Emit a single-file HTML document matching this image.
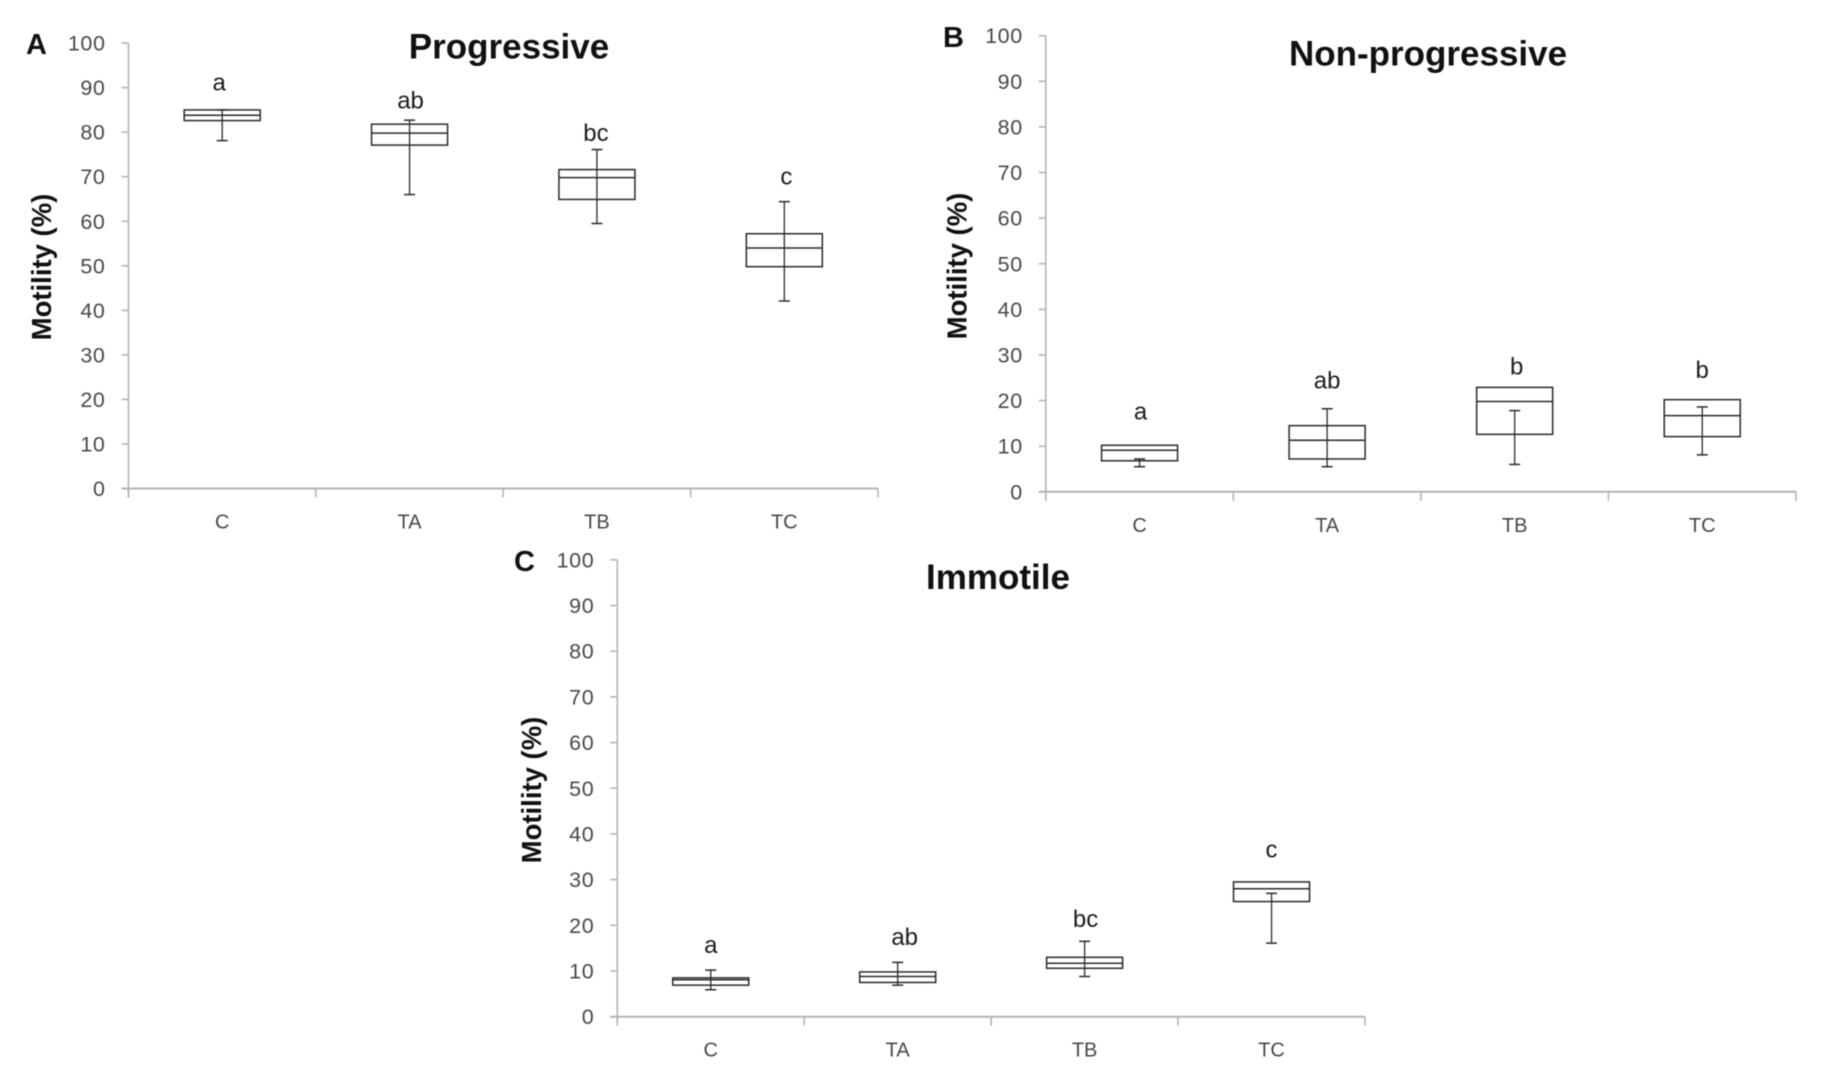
<!DOCTYPE html>
<html lang="en">
<head>
<meta charset="utf-8">
<title>Motility box plots</title>
<style>
html,body{margin:0;padding:0;background:#fff;width:1830px;height:1080px;overflow:hidden}
svg{display:block;filter:blur(0.55px)}
text{font-family:"Liberation Sans",sans-serif}
.panel-letter,.chart-title,.axis-title{font-weight:bold;fill:#111}
.chart-title{font-size:35px;text-anchor:middle}
.panel-letter{font-size:29px}
.axis-title{font-size:27.5px;text-anchor:middle}
.tick-label{font-size:21.5px;letter-spacing:0.6px;fill:#484848;text-anchor:end}
.cat-label{font-size:20px;fill:#484848;text-anchor:middle}
.sig-label{font-size:24px;fill:#1c1c1c;text-anchor:middle}
</style>
</head>
<body>
<svg id="figure" width="1830" height="1080" viewBox="0 0 1830 1080" xmlns="http://www.w3.org/2000/svg">
  <rect x="0" y="0" width="1830" height="1080" fill="#fff"/>

  <g id="panel-a">
    <text class="panel-letter" x="26" y="54">A</text>
    <text class="chart-title" x="509" y="58.5">Progressive</text>
    <text class="axis-title" transform="translate(51 267) rotate(-90)">Motility (%)</text>
  </g>

  <g id="panel-b">
    <text class="panel-letter" x="943" y="47">B</text>
    <text class="chart-title" x="1428" y="65.5">Non-progressive</text>
    <text class="axis-title" transform="translate(966.5 266) rotate(-90)">Motility (%)</text>
  </g>

  <g id="panel-c">
    <text class="panel-letter" x="514" y="571">C</text>
    <text class="chart-title" x="998" y="589">Immotile</text>
    <text class="axis-title" transform="translate(541 790) rotate(-90)">Motility (%)</text>
  </g>
</svg>

<script>
// Shared axis data
const categories = ["C", "TA", "TB", "TC"];
const yTickValues = [0, 10, 20, 30, 40, 50, 60, 70, 80, 90, 100];

// Panel A: Progressive
const progressiveLow    = [78.1, 66.0, 59.5, 42.1];
const progressiveQ1     = [82.6, 77.1, 64.9, 49.8];
const progressiveMedian = [83.8, 79.8, 69.8, 54.0];
const progressiveQ3     = [85.0, 81.8, 71.6, 57.2];
const progressiveHigh   = [85.0, 82.7, 76.1, 64.4];
const progressiveLetters = ["a", "ab", "bc", "c"];
const progressiveLetterLevels = [89.4, 85.3, 78.0, 68.3];

// Panel B: Non-progressive
const nonProgressiveLow    = [5.5, 5.5, 6.0, 8.1];
const nonProgressiveQ1     = [6.8, 7.2, 12.6, 12.1];
const nonProgressiveMedian = [9.1, 11.3, 19.8, 16.7];
const nonProgressiveQ3     = [10.2, 14.5, 22.9, 20.2];
const nonProgressiveHigh   = [7.2, 18.2, 17.8, 18.6];
const nonProgressiveLetters = ["a", "ab", "b", "b"];
const nonProgressiveLetterLevels = [15.8, 22.7, 25.7, 25.0];

// Panel C: Immotile
const immotileLow    = [5.9, 6.9, 8.8, 16.1];
const immotileQ1     = [6.9, 7.5, 10.6, 25.2];
const immotileMedian = [8.1, 8.8, 11.7, 28.0];
const immotileQ3     = [8.5, 9.8, 13.0, 29.5];
const immotileHigh   = [10.2, 11.9, 16.5, 27.0];
const immotileLetters = ["a", "ab", "bc", "c"];
const immotileLetterLevels = [13.9, 15.7, 19.6, 34.8];

const SVG_NS = "http://www.w3.org/2000/svg";

function drawLine(parent, x1, y1, x2, y2, stroke, width) {
  const el = document.createElementNS(SVG_NS, "line");
  el.setAttribute("x1", x1);
  el.setAttribute("y1", y1);
  el.setAttribute("x2", x2);
  el.setAttribute("y2", y2);
  el.setAttribute("stroke", stroke);
  el.setAttribute("stroke-width", width);
  parent.appendChild(el);
  return el;
}

function drawText(parent, cls, x, y, str) {
  const el = document.createElementNS(SVG_NS, "text");
  el.setAttribute("class", cls);
  el.setAttribute("x", x);
  el.setAttribute("y", y);
  el.textContent = str;
  parent.appendChild(el);
  return el;
}

function drawPanel(cfg) {
  const group = document.getElementById(cfg.id);
  const yScale = function (v) { return cfg.y0 - (v / 100) * (cfg.y0 - cfg.y100); };
  const bandWidth = (cfg.x1 - cfg.x0) / categories.length;
  const xScale = function (i) { return cfg.x0 + (i + 0.5) * bandWidth; };
  const axisColor = "#b4b4b4";
  const markColor = "#2a2a2a";
  const boxWidth = 76;
  const capWidth = 11;

  const yAxis = drawLine(group, cfg.x0, yScale(100), cfg.x0, cfg.y0 + 9, axisColor, 1.6);
  
  

  const xAxis = drawLine(group, cfg.x0 - 7, cfg.y0, cfg.x1, cfg.y0, axisColor, 2);
  
  

  yTickValues.forEach(function (v) {
    const tick = drawLine(group, cfg.x0 - 7, yScale(v), cfg.x0, yScale(v), axisColor, 1.6);
    
    
    const label = drawText(group, "tick-label", cfg.x0 - 23, yScale(v) + 7.5, String(v));
    
    
  });

  for (let i = 0; i <= categories.length; i++) {
    const sep = drawLine(group, cfg.x0 + i * bandWidth, cfg.y0, cfg.x0 + i * bandWidth, cfg.y0 + 9, axisColor, 1.6);
    
    
  }

  categories.forEach(function (cat, i) {
    const cx = xScale(i);
    const slug = cfg.key + '-' + cat.toLowerCase();

    const label = drawText(group, "cat-label", cx, cfg.y0 + 40, cat);
    
    

    const box = document.createElementNS(SVG_NS, "rect");
    box.setAttribute("x", cx - boxWidth / 2);
    box.setAttribute("y", yScale(cfg.q3[i]));
    box.setAttribute("width", boxWidth);
    box.setAttribute("height", yScale(cfg.q1[i]) - yScale(cfg.q3[i]));
    box.setAttribute("fill", "none");
    box.setAttribute("stroke", markColor);
    box.setAttribute("stroke-width", 1.5);
    
    
    group.appendChild(box);

    const median = drawLine(group, cx - boxWidth / 2, yScale(cfg.median[i]), cx + boxWidth / 2, yScale(cfg.median[i]), markColor, 1.5);
    
    

    const whisker = drawLine(group, cx, yScale(cfg.high[i]), cx, yScale(cfg.low[i]), markColor, 1.3);
    
    

    const capHigh = drawLine(group, cx - capWidth / 2, yScale(cfg.high[i]), cx + capWidth / 2, yScale(cfg.high[i]), markColor, 1.5);
    
    

    const capLow = drawLine(group, cx - capWidth / 2, yScale(cfg.low[i]), cx + capWidth / 2, yScale(cfg.low[i]), markColor, 1.5);
    
    

    const sig = drawText(group, "sig-label", cx + cfg.letterNudge[i], yScale(cfg.letterLevels[i]), cfg.letters[i]);
    
    
  });
}

drawPanel({
  id: "panel-a", key: "progressive",
  x0: 128.5, x1: 878, y0: 488.5, y100: 43.1,
  low: progressiveLow, q1: progressiveQ1, median: progressiveMedian, q3: progressiveQ3, high: progressiveHigh,
  letters: progressiveLetters, letterLevels: progressiveLetterLevels,
  letterNudge: [-3, 1, -1, 2]
});

drawPanel({
  id: "panel-b", key: "non-progressive",
  x0: 1045.8, x1: 1796, y0: 491.8, y100: 35.7,
  low: nonProgressiveLow, q1: nonProgressiveQ1, median: nonProgressiveMedian, q3: nonProgressiveQ3, high: nonProgressiveHigh,
  letters: nonProgressiveLetters, letterLevels: nonProgressiveLetterLevels,
  letterNudge: [1, 0, 2, 0]
});

drawPanel({
  id: "panel-c", key: "immotile",
  x0: 617.3, x1: 1365, y0: 1016.7, y100: 559.8,
  low: immotileLow, q1: immotileQ1, median: immotileMedian, q3: immotileQ3, high: immotileHigh,
  letters: immotileLetters, letterLevels: immotileLetterLevels,
  letterNudge: [0, 7, 1, 0]
});
</script>
</body>
</html>
